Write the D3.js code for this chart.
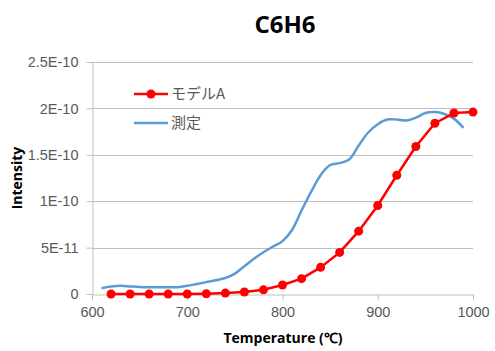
<!DOCTYPE html>
<html>
<head>
<meta charset="utf-8">
<script src="https://cdn.jsdelivr.net/npm/d3@7"></script>
<style>
  body { margin: 0; background: #fff; }
  svg { display: block; }
</style>
</head>
<body>
<svg id="chart"></svg>
<script>
// model A: computed points (every 20 ℃)
const modelTemp = [620, 640, 660, 680, 700, 720, 740, 760, 780, 800, 820, 840, 860, 880, 900, 920, 940, 960, 980, 1000];
const modelA = [0, 0, 0, 0, 0, 0.03e-11, 0.1e-11, 0.22e-11, 0.45e-11, 0.97e-11, 1.65e-11, 2.87e-11, 4.48e-11, 6.77e-11, 9.54e-11, 12.8e-11, 15.9e-11, 18.4e-11, 19.5e-11, 19.6e-11];

// measured curve
const measTemp = [610, 620, 630, 640, 650, 660, 670, 680, 690, 700, 710, 720, 730, 740, 750, 760, 770, 780, 790, 800,
  810, 820, 830, 840, 850, 860, 870, 880, 890, 900, 910, 920, 930, 940, 950, 960, 970, 980, 990];
const measured = [0.62, 0.8, 0.88, 0.82, 0.76, 0.73, 0.72, 0.72, 0.73, 0.88, 1.08, 1.28, 1.48, 1.72, 2.2, 3.0, 3.8, 4.5, 5.1, 5.7,
  6.9, 9.0, 11.0, 12.8, 13.9, 14.1, 14.5, 16.0, 17.4, 18.3, 18.8, 18.8, 18.7, 19.0, 19.5, 19.6, 19.4, 18.9, 17.9].map((v) => v * 1e-11);

const xTicks = [600, 700, 800, 900, 1000];
const yTicks = [0, 5e-11, 1e-10, 1.5e-10, 2e-10, 2.5e-10];
const yTickLabels = ['0', '5E-11', '1E-10', '1.5E-10', '2E-10', '2.5E-10'];

const width = 495;
const height = 351;
const margin = { top: 62, right: 22, bottom: 57, left: 92 };
const textFont = '"Liberation Sans", Arial, sans-serif';
const cjkFont = '"Noto Sans CJK JP", "Noto Sans", sans-serif';
const gridColor = '#bfbfbf';
const labelColor = '#595959';

const svg = d3.select('#chart').attr('width', width).attr('height', height);

const x = d3.scaleLinear([600, 1000], [margin.left, width - margin.right]);
const y = d3.scaleLinear([0, 2.5e-10], [height - margin.bottom, margin.top]);

// gridlines
svg
  .append('g')
  .selectAll('line')
  .data(yTicks.slice(1))
  .join('line')
  .attr('x1', margin.left)
  .attr('x2', width - margin.right)
  .attr('y1', (d) => Math.round(y(d)) + 0.5)
  .attr('y2', (d) => Math.round(y(d)) + 0.5)
  .attr('stroke', gridColor);

// y axis
const yAxis = d3
  .axisLeft(y)
  .tickValues(yTicks)
  .tickFormat((d, i) => yTickLabels[i])
  .tickSize(6)
  .tickPadding(8)
  .tickSizeOuter(0);
svg
  .append('g')
  .attr('transform', `translate(${margin.left + 0.5},0)`)
  .call(yAxis)
  .call((g) => g.select('.domain').attr('stroke', gridColor))
  .call((g) => g.selectAll('.tick line').attr('stroke', gridColor))
  .call((g) =>
    g.selectAll('.tick text').attr('fill', labelColor).attr('font-size', 14.5).attr('font-family', textFont)
  );

// x axis
const xAxis = d3.axisBottom(x).tickValues(xTicks).tickFormat(d3.format('d')).tickSize(6).tickPadding(6).tickSizeOuter(0);
svg
  .append('g')
  .attr('transform', `translate(0,${Math.round(y(0)) + 0.5})`)
  .call(xAxis)
  .call((g) => g.select('.domain').attr('stroke', gridColor))
  .call((g) => g.selectAll('.tick line').attr('stroke', gridColor))
  .call((g) =>
    g.selectAll('.tick text').attr('fill', labelColor).attr('font-size', 14.5).attr('font-family', textFont)
  );

// measured line
const measLine = d3
  .line()
  .x((d, i) => x(measTemp[i]))
  .y((d) => y(d))
  .curve(d3.curveCatmullRom);
svg
  .append('path')
  .datum(measured)
  .attr('d', measLine)
  .attr('fill', 'none')
  .attr('stroke', '#5b9bd5')
  .attr('stroke-width', 2.5)
  .attr('stroke-linejoin', 'round');

// model A line + markers
const modelLine = d3
  .line()
  .x((d, i) => x(modelTemp[i]))
  .y((d) => y(d));
svg
  .append('path')
  .datum(modelA)
  .attr('d', modelLine)
  .attr('fill', 'none')
  .attr('stroke', '#ff0000')
  .attr('stroke-width', 2.5)
  .attr('stroke-linejoin', 'round');
svg
  .append('g')
  .selectAll('circle')
  .data(modelA)
  .join('circle')
  .attr('cx', (d, i) => x(modelTemp[i]))
  .attr('cy', (d) => y(d))
  .attr('r', 4.5)
  .attr('fill', '#ff0000');

// legend
const legend = svg.append('g').attr('transform', 'translate(134,0)');
legend.append('line').attr('x1', 0).attr('x2', 34).attr('y1', 94).attr('y2', 94).attr('stroke', '#ff0000').attr('stroke-width', 2.5);
legend.append('circle').attr('cx', 17).attr('cy', 94).attr('r', 4.5).attr('fill', '#ff0000');
legend
  .append('text')
  .attr('x', 37)
  .attr('y', 94)
  .attr('dy', '0.35em')
  .attr('font-size', 15)
  .attr('font-family', cjkFont)
  .attr('fill', labelColor)
  .text('モデルA');
legend.append('line').attr('x1', 0).attr('x2', 34).attr('y1', 123).attr('y2', 123).attr('stroke', '#5b9bd5').attr('stroke-width', 2.5);
legend
  .append('text')
  .attr('x', 37)
  .attr('y', 123)
  .attr('dy', '0.35em')
  .attr('font-size', 15)
  .attr('font-family', cjkFont)
  .attr('fill', labelColor)
  .text('測定');

// title
svg
  .append('text')
  .attr('x', 285)
  .attr('y', 33)
  .attr('text-anchor', 'middle')
  .attr('font-size', 24)
  .attr('font-weight', 'bold')
  .attr('font-family', '"Open Sans", sans-serif')
  .attr('fill', '#000')
  .text('C6H6');

// axis titles
svg
  .append('text')
  .attr('x', 283)
  .attr('y', 343)
  .attr('text-anchor', 'middle')
  .attr('font-size', 14)
  .attr('font-weight', 'bold')
  .attr('font-family', '"Open Sans", sans-serif')
  .text('Temperature (℃)');
svg
  .append('text')
  .attr('transform', 'translate(22,178) rotate(-90)')
  .attr('text-anchor', 'middle')
  .attr('font-size', 14)
  .attr('font-weight', 'bold')
  .attr('font-family', '"Open Sans", sans-serif')
  .text('Intensity');
</script>
</body>
</html>
